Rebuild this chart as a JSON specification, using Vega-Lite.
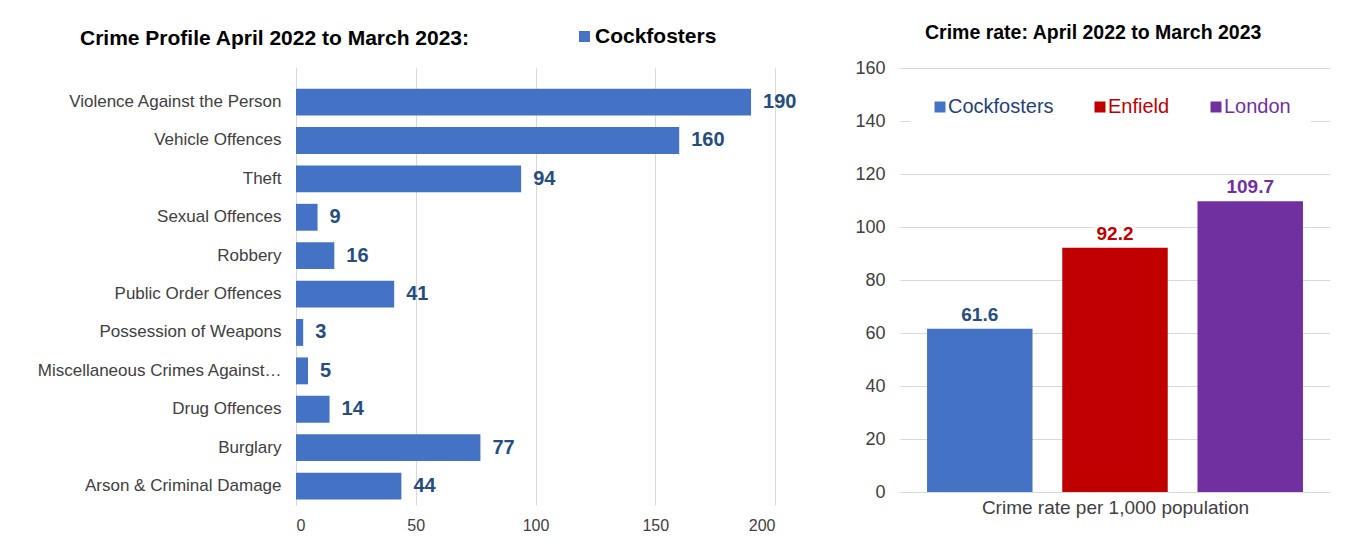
{
  "$schema": "https://vega.github.io/schema/vega-lite/v6.json",
  "padding": {"left": 36, "top": 22, "right": 0, "bottom": 0},
  "background": "white",
  "config": {
    "font": "Liberation Sans",
    "view": {"stroke": null},
    "legend": {"padding": 0}
  },
  "align": "none",
  "spacing": 57,
  "resolve": {"scale": {"color": "independent"}, "legend": {"color": "independent"}},
  "hconcat": [
    {
      "width": 479,
      "height": 437,
      "title": {
        "text": "Crime Profile April 2022 to March 2023:",
        "anchor": "start",
        "frame": "group",
        "dx": -216,
        "offset": -23,
        "fontSize": 21,
        "fontWeight": "bold",
        "color": "#000000"
      },
      "data": {
        "values": [
          {"crime": "Violence Against the Person", "count": 190, "series": "Cockfosters"},
          {"crime": "Vehicle Offences", "count": 160, "series": "Cockfosters"},
          {"crime": "Theft", "count": 94, "series": "Cockfosters"},
          {"crime": "Sexual Offences", "count": 9, "series": "Cockfosters"},
          {"crime": "Robbery", "count": 16, "series": "Cockfosters"},
          {"crime": "Public Order Offences", "count": 41, "series": "Cockfosters"},
          {"crime": "Possession of Weapons", "count": 3, "series": "Cockfosters"},
          {"crime": "Miscellaneous Crimes Against Society", "count": 5, "series": "Cockfosters"},
          {"crime": "Drug Offences", "count": 14, "series": "Cockfosters"},
          {"crime": "Burglary", "count": 77, "series": "Cockfosters"},
          {"crime": "Arson & Criminal Damage", "count": 44, "series": "Cockfosters"}
        ]
      },
      "encoding": {
        "y": {
          "field": "crime",
          "type": "nominal",
          "sort": null,
          "scale": {"paddingInner": 0.3, "paddingOuter": 0.34, "align": 0.79},
          "axis": {
            "title": null,
            "labelFontSize": 17,
            "labelColor": "#404040",
            "labelPadding": 15,
            "labelLimit": 245,
            "ticks": false,
            "domain": true,
            "domainColor": "#d9d9d9",
            "domainWidth": 1
          }
        },
        "x": {
          "field": "count",
          "type": "quantitative",
          "scale": {"domain": [0, 200], "nice": false},
          "axis": {
            "title": null,
            "values": [0, 50, 100, 150, 200],
            "labelFontSize": 16,
            "labelColor": "#404040",
            "labelPadding": 12,
            "ticks": false,
            "domain": false,
            "grid": true,
            "gridColor": "#d9d9d9"
          }
        }
      },
      "layer": [
        {
          "mark": {"type": "bar"},
          "encoding": {
            "color": {
              "field": "series",
              "type": "nominal",
              "scale": {"domain": ["Cockfosters"], "range": ["#4472C4"]},
              "legend": {
                "title": null,
                "orient": "none",
                "legendX": 278,
                "legendY": -42,
                "symbolType": "square",
                "symbolSize": 121,
                "symbolStrokeWidth": 0,
                "labelFontSize": 21,
                "labelFontWeight": "bold",
                "labelColor": "#000000",
                "labelOffset": 0
              }
            }
          }
        },
        {
          "mark": {"type": "text", "align": "left", "baseline": "middle", "dx": 12, "fontSize": 20, "fontWeight": "bold", "color": "#264D7E"},
          "encoding": {"text": {"field": "count", "type": "quantitative"}}
        }
      ]
    },
    {
      "width": 430,
      "height": 424,
      "title": {
        "text": "Crime rate: April 2022 to March 2023",
        "anchor": "start",
        "frame": "group",
        "dx": 25,
        "offset": 16,
        "fontSize": 19.5,
        "fontWeight": "bold",
        "color": "#000000"
      },
      "data": {
        "values": [
          {"area": "Cockfosters", "rate": 61.6},
          {"area": "Enfield", "rate": 92.2},
          {"area": "London", "rate": 109.7}
        ]
      },
      "encoding": {
        "x": {
          "field": "area",
          "type": "nominal",
          "sort": null,
          "scale": {"paddingInner": 0.22, "paddingOuter": 0.2},
          "axis": {
            "title": "Crime rate per 1,000 population",
            "titleFontSize": 19,
            "titleFontWeight": "normal",
            "titleColor": "#404040",
            "titlePadding": 6,
            "labels": false,
            "ticks": false,
            "domain": false
          }
        },
        "y": {
          "field": "rate",
          "type": "quantitative",
          "scale": {"domain": [0, 160], "nice": false},
          "axis": {
            "title": null,
            "values": [0, 20, 40, 60, 80, 100, 120, 140, 160],
            "labelFontSize": 18,
            "labelColor": "#404040",
            "labelPadding": 15,
            "ticks": false,
            "domain": false,
            "grid": true,
            "gridColor": "#d9d9d9"
          }
        }
      },
      "layer": [
        {
          "mark": {"type": "bar"},
          "encoding": {
            "color": {
              "field": "area",
              "type": "nominal",
              "scale": {"domain": ["Cockfosters", "Enfield", "London"], "range": ["#4472C4", "#C00000", "#7030A0"]},
              "legend": {
                "title": null,
                "orient": "none",
                "direction": "horizontal",
                "legendX": 10,
                "legendY": 9,
                "padding": 20,
                "fillColor": "white",
                "symbolType": "square",
                "symbolSize": 121,
                "symbolStrokeWidth": 0,
                "labelFontSize": 20,
                "labelOffset": -2,
                "columnPadding": 36,
                "encode": {
                  "labels": {
                    "update": {
                      "fill": {"signal": "datum.value === 'Cockfosters' ? '#25407A' : datum.value === 'Enfield' ? '#C00000' : '#7030A0'"}
                    }
                  }
                }
              }
            }
          }
        },
        {
          "mark": {"type": "text", "baseline": "middle", "dy": -14, "fontSize": 19, "fontWeight": "bold", "stroke": "white", "strokeWidth": 7, "color": "white"},
          "encoding": {"text": {"field": "rate", "type": "quantitative", "format": ".1f"}}
        },
        {
          "mark": {"type": "text", "baseline": "middle", "dy": -14, "fontSize": 19, "fontWeight": "bold"},
          "encoding": {
            "text": {"field": "rate", "type": "quantitative", "format": ".1f"},
            "color": {
              "condition": {"test": "datum.area === 'Cockfosters'", "value": "#264D7E"},
              "field": "area",
              "type": "nominal",
              "legend": null
            }
          }
        }
      ]
    }
  ]
}
